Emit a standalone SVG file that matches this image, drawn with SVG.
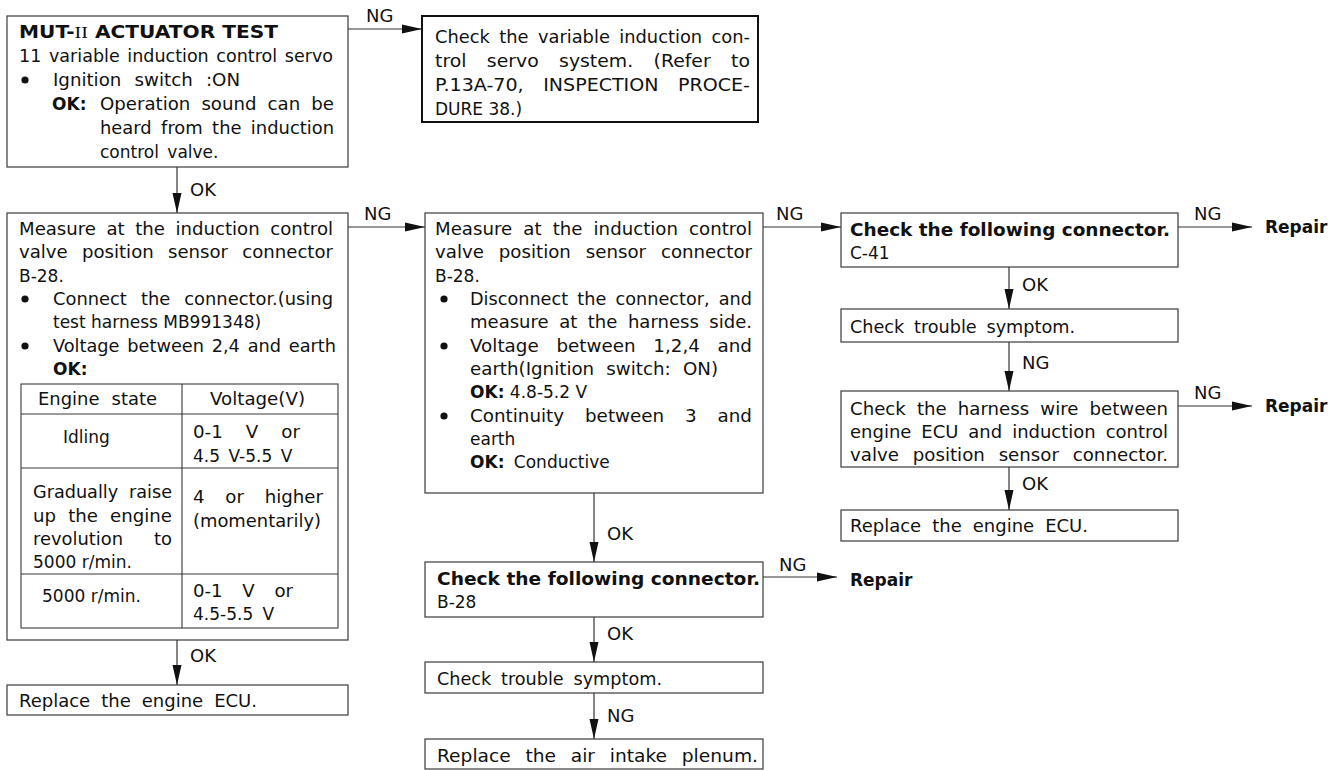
<svg xmlns="http://www.w3.org/2000/svg" width="1341" height="770" viewBox="0 0 1341 770">
  <defs>
    <style>
      .box { fill: #fff; stroke: #3a3a3a; stroke-width: 1.2; }
      .box2 { fill: #fff; stroke: #111; stroke-width: 2; }
      .grid { stroke: #3a3a3a; stroke-width: 1.1; fill: none; }
      .t { font-family: "DejaVu Sans", "Liberation Sans", sans-serif; font-size: 17px; fill: #111; }
      .b { font-weight: bold; }
      .lbl { font-family: "DejaVu Sans", "Liberation Sans", sans-serif; font-size: 18px; fill: #111; }
      .edge { stroke: #333; stroke-width: 1.2; fill: none; marker-end: url(#ah); }
      .dot { fill: #111; }
    </style>
    <marker id="ah" markerUnits="userSpaceOnUse" markerWidth="20" markerHeight="10" refX="20" refY="5" orient="auto">
      <path d="M0,0.5 L20,5 L0,9.5 Z" fill="#111"/>
    </marker>
  </defs>

  <!-- Connectors -->
  <g id="connectors">
    <path class="edge" d="M348,29 H422"/>
    <text class="lbl" x="366" y="22">NG</text>

    <path class="edge" d="M177,167 V213"/>
    <text class="lbl" x="190" y="196">OK</text>

    <path class="edge" d="M348,227 H425"/>
    <text class="lbl" x="364" y="220">NG</text>

    <path class="edge" d="M763,227 H841"/>
    <text class="lbl" x="776" y="220">NG</text>

    <path class="edge" d="M1178,227 H1252"/>
    <text class="lbl" x="1194" y="220">NG</text>

    <path class="edge" d="M1009,267 V309"/>
    <text class="lbl" x="1022" y="291">OK</text>

    <path class="edge" d="M1009,342 V391"/>
    <text class="lbl" x="1022" y="369">NG</text>

    <path class="edge" d="M1178,406 H1252"/>
    <text class="lbl" x="1194" y="399">NG</text>

    <path class="edge" d="M1009,467 V510"/>
    <text class="lbl" x="1022" y="490">OK</text>

    <path class="edge" d="M594,493 V562"/>
    <text class="lbl" x="607" y="540">OK</text>

    <path class="edge" d="M763,577 H837"/>
    <text class="lbl" x="779" y="571">NG</text>

    <path class="edge" d="M594,617 V662"/>
    <text class="lbl" x="607" y="640">OK</text>

    <path class="edge" d="M594,693 V739"/>
    <text class="lbl" x="607" y="722">NG</text>

    <path class="edge" d="M177,640 V685"/>
    <text class="lbl" x="190" y="662">OK</text>
  </g>

  <!-- Actuator test -->
  <g id="actuator-test">
    <rect class="box" x="7" y="16" width="341" height="151"/>
    <text class="t b" x="19" y="38" textLength="259" lengthAdjust="spacingAndGlyphs">MUT-<tspan font-family="'Liberation Serif', serif" font-weight="normal">II</tspan> ACTUATOR TEST</text>
    <text class="t" x="19" y="62" style="word-spacing:2px" textLength="314" lengthAdjust="spacingAndGlyphs">11 variable induction control servo</text>
    <circle class="dot" cx="25" cy="80" r="3.6"/>
    <text class="t" x="53" y="86" style="word-spacing:7px" textLength="187" lengthAdjust="spacingAndGlyphs">Ignition switch :ON</text>
    <text class="t b" x="52" y="110">OK:</text>
    <text class="t" x="100" y="110" style="word-spacing:5px" textLength="234" lengthAdjust="spacingAndGlyphs">Operation sound can be</text>
    <text class="t" x="100" y="134" style="word-spacing:3.5px" textLength="234" lengthAdjust="spacingAndGlyphs">heard from the induction</text>
    <text class="t" x="100" y="158" style="word-spacing:3px">control valve.</text>
  </g>

  <!-- Servo system check -->
  <g id="servo-system">
    <rect class="box2" x="422" y="16" width="336" height="106"/>
    <text class="t" x="435" y="43" style="word-spacing:3.5px" textLength="315" lengthAdjust="spacingAndGlyphs">Check the variable induction con-</text>
    <text class="t" x="435" y="67" style="word-spacing:13px" textLength="315" lengthAdjust="spacingAndGlyphs">trol servo system. (Refer to</text>
    <text class="t" x="435" y="91" style="word-spacing:12px" textLength="315" lengthAdjust="spacingAndGlyphs">P.13A-70, INSPECTION PROCE-</text>
    <text class="t" x="435" y="115">DURE 38.)</text>
  </g>

  <!-- Connected measurement with table -->
  <g id="measure-connected">
    <rect class="box" x="7" y="213" width="341" height="427"/>
    <text class="t" x="19" y="235" style="word-spacing:4.5px" textLength="314" lengthAdjust="spacingAndGlyphs">Measure at the induction control</text>
    <text class="t" x="19" y="258" style="word-spacing:8px" textLength="314" lengthAdjust="spacingAndGlyphs">valve position sensor connector</text>
    <text class="t" x="19" y="282">B-28.</text>
    <circle class="dot" cx="25" cy="299" r="3.6"/>
    <text class="t" x="53" y="305" style="word-spacing:8px" textLength="280" lengthAdjust="spacingAndGlyphs">Connect the connector.(using</text>
    <text class="t" x="53" y="328">test harness MB991348)</text>
    <circle class="dot" cx="25" cy="346" r="3.6"/>
    <text class="t" x="53" y="352" style="word-spacing:2px" textLength="283" lengthAdjust="spacingAndGlyphs">Voltage between 2,4 and earth</text>
    <text class="t b" x="53" y="375">OK:</text>

    <rect class="grid" x="21" y="384" width="317" height="244"/>
    <path class="grid" d="M182,384 V628 M21,414 H338 M21,468 H338 M21,574 H338"/>
    <text class="t" x="38" y="405" style="word-spacing:6px" textLength="119" lengthAdjust="spacingAndGlyphs">Engine state</text>
    <text class="t" x="210" y="405" textLength="95" lengthAdjust="spacingAndGlyphs">Voltage(V)</text>

    <text class="t" x="63" y="443">Idling</text>
    <text class="t" x="193" y="438" style="word-spacing:16px" textLength="107" lengthAdjust="spacingAndGlyphs">0-1 V or</text>
    <text class="t" x="193" y="462" style="word-spacing:3px">4.5 V-5.5 V</text>

    <text class="t" x="33" y="498" style="word-spacing:5px" textLength="139" lengthAdjust="spacingAndGlyphs">Gradually raise</text>
    <text class="t" x="33" y="522" style="word-spacing:6px" textLength="139" lengthAdjust="spacingAndGlyphs">up the engine</text>
    <text class="t" x="33" y="545" style="word-spacing:24px" textLength="139" lengthAdjust="spacingAndGlyphs">revolution to</text>
    <text class="t" x="33" y="568">5000 r/min.</text>
    <text class="t" x="193" y="503" style="word-spacing:14px" textLength="130" lengthAdjust="spacingAndGlyphs">4 or higher</text>
    <text class="t" x="193" y="527" textLength="128" lengthAdjust="spacingAndGlyphs">(momentarily)</text>

    <text class="t" x="42" y="602">5000 r/min.</text>
    <text class="t" x="193" y="597" style="word-spacing:13px" textLength="100" lengthAdjust="spacingAndGlyphs">0-1 V or</text>
    <text class="t" x="193" y="620" style="word-spacing:4px">4.5-5.5 V</text>
  </g>

  <!-- Disconnected measurement -->
  <g id="measure-harness-side">
    <rect class="box" x="425" y="213" width="338" height="280"/>
    <text class="t" x="435" y="235" style="word-spacing:5px" textLength="317" lengthAdjust="spacingAndGlyphs">Measure at the induction control</text>
    <text class="t" x="435" y="258" style="word-spacing:8.5px" textLength="317" lengthAdjust="spacingAndGlyphs">valve position sensor connector</text>
    <text class="t" x="435" y="282">B-28.</text>
    <circle class="dot" cx="444" cy="299" r="3.6"/>
    <text class="t" x="470" y="305" style="word-spacing:3.5px" textLength="282" lengthAdjust="spacingAndGlyphs">Disconnect the connector, and</text>
    <text class="t" x="470" y="328" style="word-spacing:4.5px" textLength="282" lengthAdjust="spacingAndGlyphs">measure at the harness side.</text>
    <circle class="dot" cx="444" cy="346" r="3.6"/>
    <text class="t" x="470" y="352" style="word-spacing:11px" textLength="282" lengthAdjust="spacingAndGlyphs">Voltage between 1,2,4 and</text>
    <text class="t" x="470" y="375" style="word-spacing:6px" textLength="248" lengthAdjust="spacingAndGlyphs">earth(Ignition switch: ON)</text>
    <text class="t" x="470" y="398"><tspan font-weight="bold">OK:</tspan> 4.8-5.2 V</text>
    <circle class="dot" cx="444" cy="416" r="3.6"/>
    <text class="t" x="470" y="422" style="word-spacing:14px" textLength="282" lengthAdjust="spacingAndGlyphs">Continuity between 3 and</text>
    <text class="t" x="470" y="445">earth</text>
    <text class="t" x="470" y="468" style="word-spacing:4px"><tspan font-weight="bold">OK:</tspan> Conductive</text>
  </g>

  <!-- Connector C-41 -->
  <g id="check-c41">
    <rect class="box" x="841" y="213" width="337" height="54"/>
    <text class="t b" x="850" y="236" textLength="320" lengthAdjust="spacingAndGlyphs">Check the following connector.</text>
    <text class="t" x="850" y="259">C-41</text>
  </g>
  <g id="repair-c41">
    <text class="t b" x="1265" y="233">Repair</text>
  </g>

  <g id="trouble-symptom-right">
    <rect class="box" x="841" y="309" width="337" height="33"/>
    <text class="t" x="850" y="333" style="word-spacing:4px" textLength="225" lengthAdjust="spacingAndGlyphs">Check trouble symptom.</text>
  </g>

  <g id="harness-wire">
    <rect class="box" x="841" y="391" width="337" height="76"/>
    <text class="t" x="850" y="415" style="word-spacing:5px" textLength="318" lengthAdjust="spacingAndGlyphs">Check the harness wire between</text>
    <text class="t" x="850" y="438" style="word-spacing:4px" textLength="318" lengthAdjust="spacingAndGlyphs">engine ECU and induction control</text>
    <text class="t" x="850" y="461" style="word-spacing:7.5px" textLength="318" lengthAdjust="spacingAndGlyphs">valve position sensor connector.</text>
  </g>
  <g id="repair-harness">
    <text class="t b" x="1265" y="412">Repair</text>
  </g>

  <g id="replace-ecu-right">
    <rect class="box" x="841" y="510" width="337" height="31"/>
    <text class="t" x="850" y="532" style="word-spacing:5px" textLength="238" lengthAdjust="spacingAndGlyphs">Replace the engine ECU.</text>
  </g>

  <!-- Connector B-28 -->
  <g id="check-b28">
    <rect class="box" x="425" y="562" width="338" height="55"/>
    <text class="t b" x="437" y="585" textLength="323" lengthAdjust="spacingAndGlyphs">Check the following connector.</text>
    <text class="t" x="437" y="608">B-28</text>
  </g>
  <g id="repair-b28">
    <text class="t b" x="850" y="586">Repair</text>
  </g>

  <g id="trouble-symptom-middle">
    <rect class="box" x="425" y="662" width="338" height="31"/>
    <text class="t" x="437" y="685" style="word-spacing:4px" textLength="225" lengthAdjust="spacingAndGlyphs">Check trouble symptom.</text>
  </g>

  <g id="replace-plenum">
    <rect class="box" x="425" y="739" width="338" height="30"/>
    <text class="t" x="437" y="762" style="word-spacing:8px" textLength="321" lengthAdjust="spacingAndGlyphs">Replace the air intake plenum.</text>
  </g>

  <g id="replace-ecu-left">
    <rect class="box" x="7" y="685" width="341" height="30"/>
    <text class="t" x="19" y="707" style="word-spacing:5px" textLength="238" lengthAdjust="spacingAndGlyphs">Replace the engine ECU.</text>
  </g>
</svg>
